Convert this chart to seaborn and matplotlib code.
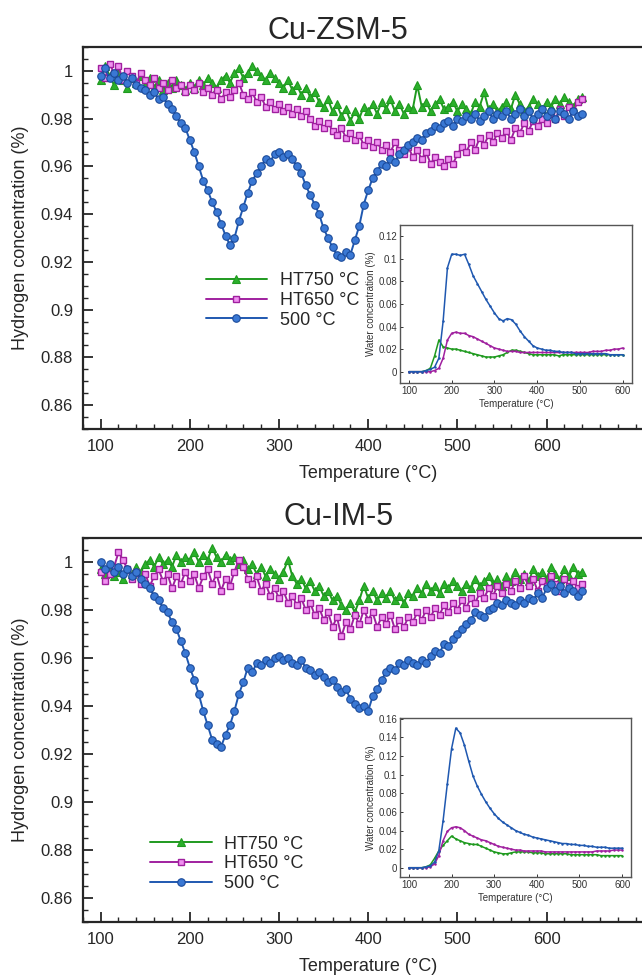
import numpy as np
import pandas as pd
import matplotlib
matplotlib.use("Agg")
import matplotlib.pyplot as plt
import seaborn as sns
from matplotlib.ticker import FixedLocator, MultipleLocator, FuncFormatter

# temperature grid of the H2 traces (main panels) and water traces (insets)
temp_main = np.arange(100, 645, 5)
temp_inset = np.arange(100, 610, 10)

series_labels = ['HT750 °C', 'HT650 °C', '500 °C']

# ---- Cu-ZSM-5, hydrogen concentration ----
zsm_ht750 = [
    0.996, 1.002, 0.998, 0.994, 0.999, 0.996, 0.993, 0.997, 0.995, 0.998,
    0.994, 0.997, 0.993, 0.996, 0.992, 0.995, 0.993, 0.996, 0.994, 0.992,
    0.995, 0.993, 0.996, 0.994, 0.997, 0.995, 0.993, 0.996, 0.998, 0.995,
    0.999, 1.001, 0.997, 0.999, 1.002, 1.000, 0.998, 0.996, 0.999, 0.997,
    0.995, 0.993, 0.996, 0.992, 0.994, 0.990, 0.993, 0.989, 0.991, 0.987,
    0.985, 0.988, 0.983, 0.986, 0.981, 0.984, 0.979, 0.983, 0.980, 0.985,
    0.983, 0.986, 0.982, 0.987, 0.984, 0.988, 0.983, 0.986, 0.982, 0.985,
    0.984, 0.994, 0.985, 0.987, 0.983, 0.986, 0.988, 0.984, 0.985, 0.987,
    0.983, 0.986, 0.984, 0.982, 0.987, 0.985, 0.991, 0.984, 0.986, 0.983,
    0.985, 0.987, 0.984, 0.990, 0.986, 0.983, 0.985, 0.988, 0.986, 0.984,
    0.987, 0.985, 0.988, 0.986, 0.989, 0.987, 0.985, 0.988, 0.989]
zsm_ht650 = [
    1.001, 0.997, 1.003, 0.999, 1.002, 0.996, 1.000, 0.998, 0.995, 0.999,
    0.996, 0.994, 0.997, 0.993, 0.995, 0.992, 0.996, 0.993, 0.994, 0.991,
    0.994, 0.992, 0.995, 0.991, 0.993, 0.990, 0.992, 0.988, 0.991, 0.989,
    0.992, 0.995, 0.990, 0.988, 0.991, 0.987, 0.989, 0.985, 0.987, 0.984,
    0.986, 0.983, 0.985, 0.982, 0.984, 0.981, 0.983, 0.980, 0.977, 0.979,
    0.976, 0.978, 0.975, 0.973, 0.976, 0.972, 0.974, 0.971, 0.973, 0.969,
    0.971, 0.968, 0.970, 0.967, 0.969, 0.966, 0.970, 0.967, 0.965, 0.968,
    0.964, 0.967, 0.963, 0.966, 0.961, 0.964, 0.962, 0.960, 0.963, 0.961,
    0.965, 0.968, 0.966, 0.970, 0.967, 0.972, 0.969, 0.973, 0.970, 0.974,
    0.972, 0.975, 0.971, 0.976, 0.974, 0.978, 0.975, 0.979, 0.977, 0.980,
    0.978, 0.982, 0.980, 0.984, 0.981, 0.985, 0.983, 0.987, 0.988]
zsm_500 = [
    0.998, 1.001, 0.997, 0.999, 0.996, 0.998, 0.995, 0.997, 0.994, 0.993,
    0.992, 0.990, 0.991, 0.988, 0.989, 0.986, 0.984, 0.981, 0.978, 0.976,
    0.971, 0.966, 0.960, 0.954, 0.950, 0.945, 0.941, 0.936, 0.931, 0.927,
    0.930, 0.937, 0.943, 0.949, 0.954, 0.957, 0.960, 0.963, 0.962, 0.965,
    0.966, 0.964, 0.965, 0.963, 0.960, 0.957, 0.952, 0.948, 0.944, 0.940,
    0.934, 0.930, 0.926, 0.923, 0.922, 0.924, 0.923, 0.929, 0.935, 0.944,
    0.950, 0.955, 0.958, 0.961, 0.960, 0.963, 0.962, 0.965, 0.967, 0.969,
    0.970, 0.972, 0.971, 0.974, 0.975, 0.977, 0.976, 0.978, 0.979, 0.977,
    0.980, 0.979, 0.981, 0.980, 0.982, 0.979, 0.981, 0.983, 0.980, 0.982,
    0.981, 0.983, 0.980, 0.982, 0.984, 0.981, 0.983, 0.980, 0.982, 0.984,
    0.981, 0.983, 0.980, 0.983, 0.982, 0.980, 0.983, 0.981, 0.982]

# ---- Cu-IM-5, hydrogen concentration ----
im_ht750 = [
    0.997, 0.995, 0.998, 0.994, 0.996, 0.993, 0.997, 0.995, 0.998, 0.996,
    0.999, 1.001, 0.998, 1.002, 0.999, 1.001, 0.998, 1.003, 1.000, 1.002,
    1.001, 1.004, 1.000, 1.003, 1.001, 1.006, 1.002, 1.000, 1.003, 1.001,
    1.002, 0.999, 1.001, 0.997, 0.999, 0.995, 0.998, 0.994, 0.997, 0.995,
    0.993, 0.996, 1.001, 0.994, 0.991, 0.993, 0.989, 0.992, 0.988, 0.990,
    0.986, 0.988, 0.984, 0.986, 0.982, 0.980, 0.983, 0.979, 0.984, 0.990,
    0.985, 0.988, 0.984, 0.987, 0.985, 0.988, 0.984, 0.986, 0.983, 0.987,
    0.986, 0.989, 0.987, 0.991, 0.988, 0.990, 0.987, 0.991, 0.989, 0.992,
    0.990, 0.988, 0.991, 0.989, 0.993, 0.990, 0.992, 0.994, 0.991, 0.993,
    0.990, 0.994, 0.992, 0.996, 0.993, 0.995, 0.992, 0.997, 0.994, 0.996,
    0.993, 0.998, 0.995, 0.993, 0.997, 0.994, 0.998, 0.995, 0.996]
im_ht650 = [
    0.996, 0.992, 0.995, 0.998, 1.004, 1.001, 0.997, 0.993, 0.996, 0.991,
    0.995, 0.990, 0.994, 0.997, 0.992, 0.995, 0.989, 0.994, 0.991, 0.996,
    0.992, 0.995, 0.989, 0.994, 0.997, 0.991, 0.995, 0.988, 0.993, 0.990,
    0.996, 1.001, 0.998, 0.993, 0.991, 0.994, 0.988, 0.991, 0.986, 0.989,
    0.985, 0.988, 0.983, 0.986, 0.982, 0.985, 0.980, 0.983, 0.978, 0.981,
    0.976, 0.979, 0.973, 0.977, 0.969, 0.975, 0.972, 0.978, 0.974, 0.980,
    0.976, 0.979, 0.973, 0.977, 0.974, 0.978, 0.972, 0.976, 0.973, 0.977,
    0.975, 0.979, 0.976, 0.980, 0.977, 0.981, 0.978, 0.982, 0.979, 0.983,
    0.980, 0.984, 0.981, 0.985, 0.983, 0.987, 0.985, 0.989, 0.986, 0.990,
    0.987, 0.991, 0.988, 0.992, 0.989, 0.994, 0.990, 0.993, 0.988, 0.992,
    0.990, 0.994, 0.991, 0.988, 0.993, 0.990, 0.992, 0.989, 0.991]
im_500 = [
    1.000, 0.997, 0.999, 0.996, 0.998, 0.995, 0.997, 0.994, 0.996, 0.993,
    0.991, 0.989, 0.986, 0.984, 0.981, 0.979, 0.975, 0.972, 0.967, 0.962,
    0.956, 0.951, 0.945, 0.938, 0.932, 0.926, 0.924, 0.923, 0.928, 0.932,
    0.938, 0.945, 0.950, 0.956, 0.954, 0.958, 0.957, 0.959, 0.958, 0.960,
    0.961, 0.959, 0.960, 0.958, 0.957, 0.959, 0.956, 0.955, 0.953, 0.954,
    0.952, 0.950, 0.951, 0.948, 0.946, 0.947, 0.943, 0.941, 0.939, 0.940,
    0.938, 0.944, 0.947, 0.951, 0.954, 0.956, 0.955, 0.958, 0.957, 0.959,
    0.958, 0.957, 0.959, 0.958, 0.961, 0.963, 0.962, 0.966, 0.965, 0.968,
    0.970, 0.972, 0.974, 0.976, 0.979, 0.978, 0.977, 0.980, 0.981, 0.983,
    0.982, 0.984, 0.983, 0.982, 0.984, 0.983, 0.985, 0.984, 0.987, 0.985,
    0.989, 0.991, 0.988, 0.990, 0.987, 0.989, 0.988, 0.986, 0.988]

# ---- water concentration (insets) ----
zsm_w_ht750 = [
    0, 0, 0, 0, 0.001, 0.003, 0.014, 0.028, 0.022, 0.021,
    0.020, 0.020, 0.019, 0.018, 0.017, 0.016, 0.015, 0.014, 0.013, 0.013,
    0.013, 0.014, 0.015, 0.017, 0.019, 0.019, 0.018, 0.017, 0.016, 0.015,
    0.015, 0.015, 0.015, 0.015, 0.015, 0.014, 0.015, 0.015, 0.015, 0.015,
    0.015, 0.015, 0.015, 0.015, 0.015, 0.015, 0.015, 0.015, 0.015, 0.015,
    0.015]
zsm_w_ht650 = [
    0, 0, 0, 0, 0, 0, 0.001, 0.003, 0.012, 0.028,
    0.034, 0.035, 0.034, 0.034, 0.032, 0.031, 0.029, 0.027, 0.025, 0.023,
    0.021, 0.020, 0.019, 0.018, 0.018, 0.018, 0.017, 0.017, 0.017, 0.017,
    0.017, 0.017, 0.017, 0.017, 0.017, 0.017, 0.017, 0.017, 0.017, 0.017,
    0.017, 0.017, 0.017, 0.018, 0.018, 0.018, 0.019, 0.019, 0.020, 0.020,
    0.021]
zsm_w_500 = [
    0, 0, 0, 0, 0.001, 0.002, 0.004, 0.012, 0.045, 0.092,
    0.104, 0.104, 0.103, 0.104, 0.095, 0.085, 0.078, 0.071, 0.064, 0.058,
    0.052, 0.047, 0.045, 0.047, 0.046, 0.042, 0.036, 0.031, 0.027, 0.023,
    0.021, 0.020, 0.019, 0.019, 0.018, 0.018, 0.017, 0.017, 0.017, 0.016,
    0.016, 0.016, 0.016, 0.016, 0.016, 0.016, 0.016, 0.015, 0.015, 0.015,
    0.015]
im_w_ht750 = [
    0, 0, 0, 0, 0.001, 0.003, 0.010, 0.018, 0.024, 0.029,
    0.034, 0.031, 0.029, 0.027, 0.026, 0.025, 0.025, 0.023, 0.021, 0.019,
    0.017, 0.016, 0.015, 0.015, 0.016, 0.017, 0.017, 0.017, 0.017, 0.016,
    0.016, 0.016, 0.015, 0.015, 0.015, 0.015, 0.015, 0.015, 0.014, 0.014,
    0.014, 0.014, 0.014, 0.014, 0.014, 0.013, 0.013, 0.013, 0.013, 0.013,
    0.013]
im_w_ht650 = [
    0, 0, 0, 0, 0, 0.001, 0.004, 0.013, 0.029, 0.039,
    0.043, 0.044, 0.043, 0.040, 0.036, 0.034, 0.032, 0.030, 0.029, 0.027,
    0.025, 0.023, 0.022, 0.021, 0.020, 0.019, 0.019, 0.018, 0.018, 0.018,
    0.018, 0.018, 0.017, 0.017, 0.017, 0.017, 0.017, 0.017, 0.017, 0.017,
    0.017, 0.017, 0.017, 0.017, 0.018, 0.018, 0.018, 0.018, 0.019, 0.019,
    0.019]
im_w_500 = [
    0, 0, 0, 0, 0.001, 0.002, 0.006, 0.018, 0.050, 0.090,
    0.128, 0.150, 0.145, 0.132, 0.115, 0.099, 0.088, 0.079, 0.071, 0.064,
    0.058, 0.053, 0.049, 0.046, 0.043, 0.040, 0.038, 0.036, 0.035, 0.033,
    0.032, 0.031, 0.030, 0.029, 0.028, 0.027, 0.026, 0.026, 0.025, 0.025,
    0.024, 0.024, 0.023, 0.023, 0.022, 0.022, 0.022, 0.021, 0.021, 0.021,
    0.021]

sns.set_style("ticks")
plt.rcParams['font.family'] = ['Liberation Sans', 'DejaVu Sans']

green = '#1f9a1f'
magenta = '#a0209f'
blue = '#1f58b0'
styles = [
    dict(color=green, marker='^', markersize=5.8, markerfacecolor='#2bb02b', markeredgecolor=green, markeredgewidth=0.8),
    dict(color=magenta, marker='s', markersize=4.8, markerfacecolor='#f090f0', markeredgecolor=magenta, markeredgewidth=1.0),
    dict(color=blue, marker='o', markersize=5.4, markerfacecolor='#3a78d4', markeredgecolor='#1a4a9a', markeredgewidth=0.8),
]
inset_colors = [green, magenta, blue]

fmt = FuncFormatter(lambda v, p: '{:g}'.format(round(v, 3)))


def main_panel(ax, series, title, title_y, leg_anchor):
    for vals, lab, st in zip(series, series_labels, styles):
        sns.lineplot(x=temp_main, y=vals, ax=ax, label=lab, linewidth=1.4, **st)
    ax.set_xlim(80, 720)
    ax.set_ylim(0.85, 1.01)
    # tick labels stop at 600, the frame runs on past the right edge
    ax.xaxis.set_major_locator(FixedLocator([100, 200, 300, 400, 500, 600]))
    ax.xaxis.set_minor_locator(MultipleLocator(20))
    ax.yaxis.set_major_locator(MultipleLocator(0.02))
    ax.yaxis.set_minor_locator(MultipleLocator(0.005))
    ax.yaxis.set_major_formatter(fmt)
    ax.tick_params(which='major', direction='in', length=7, width=1.3, labelsize=12, pad=7)
    ax.tick_params(which='minor', direction='in', length=3.5, width=1)
    for s in ax.spines.values():
        s.set_linewidth(1.6)
    ax.set_xlabel('Temperature (°C)', fontsize=13, labelpad=8)
    ax.set_ylabel('Hydrogen concentration (%)', fontsize=13, labelpad=8)
    ax.legend(loc='upper left', bbox_to_anchor=leg_anchor, frameon=False, fontsize=13,
              handlelength=3.4, handletextpad=0.7, labelspacing=0.15, borderaxespad=0, borderpad=0)
    fig.text(0.527, title_y, title, ha='center', va='center', fontsize=22)


def inset_panel(ax, series, ymax, ytop):
    for vals, c in zip(series, inset_colors):
        sns.lineplot(x=temp_inset, y=vals, ax=ax, color=c, marker='o', markersize=1.8,
                     markeredgewidth=0, linewidth=1.1)
    ax.set_xlim(79, 621)
    ax.set_ylim(-0.01, ytop)
    ax.set_xticks([100, 200, 300, 400, 500, 600])
    ax.set_yticks(np.arange(0, ymax + 0.001, 0.02))
    ax.yaxis.set_major_formatter(fmt)
    ax.tick_params(direction='in', length=2.5, width=0.7, labelsize=7, pad=2, colors='#333333')
    for s in ax.spines.values():
        s.set_linewidth(1.0)
        s.set_color('#555555')
    ax.set_xlabel('Temperature (°C)', fontsize=7, labelpad=2, color='#333333')
    ax.set_ylabel('Water concentration (%)', fontsize=7, labelpad=2, color='#333333')


fig = plt.figure(figsize=(6.42, 9.76), dpi=100)

ax1 = fig.add_axes([0.129, 0.5605, 0.889, 0.3914])
main_panel(ax1, [zsm_ht750, zsm_ht650, zsm_500], 'Cu-ZSM-5', 0.968, (0.215, 0.41))
ax1i = fig.add_axes([0.623, 0.6076, 0.361, 0.162])
inset_panel(ax1i, [zsm_w_ht750, zsm_w_ht650, zsm_w_500], 0.12, 0.13)

ax2 = fig.add_axes([0.129, 0.0553, 0.889, 0.3934])
main_panel(ax2, [im_ht750, im_ht650, im_500], 'Cu-IM-5', 0.47, (0.118, 0.225))
ax2i = fig.add_axes([0.623, 0.1014, 0.360, 0.163])
inset_panel(ax2i, [im_w_ht750, im_w_ht650, im_w_500], 0.16, 0.161)

fig.savefig('out.png', dpi=100)
